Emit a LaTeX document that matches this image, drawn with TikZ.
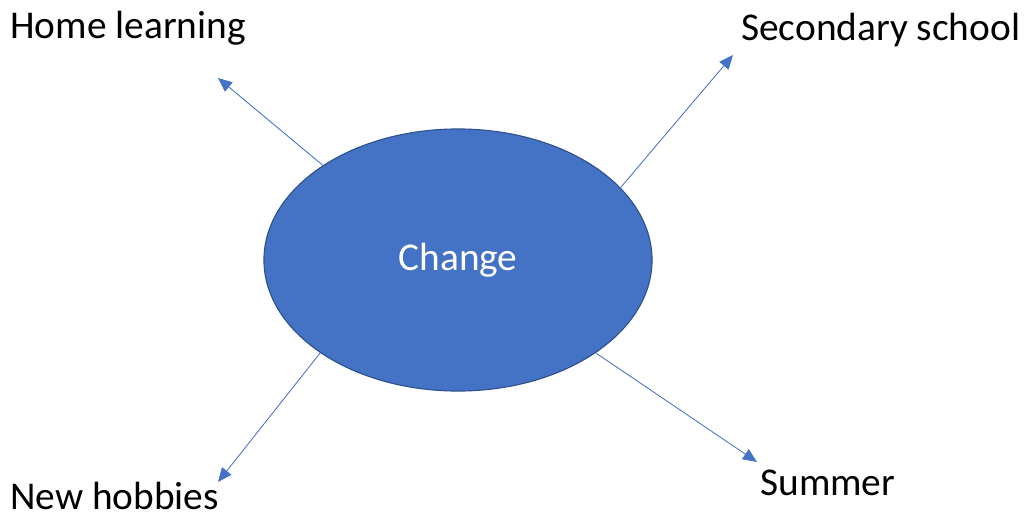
\documentclass[tikz,border=0pt]{standalone}
\usepackage{fontspec}
\setmainfont{Carlito}
\usepackage{xcolor}
\usetikzlibrary{arrows.meta,shapes.geometric,positioning}
\definecolor{officeblue}{HTML}{4472C4}
\definecolor{officeedge}{HTML}{2F528F}

\begin{document}
\begin{tikzpicture}[x=0.025cm, y=-0.025cm, every node/.style={font=\fontsize{28}{32}\selectfont}]
\useasboundingbox (0,0) rectangle (1027,521);

\node[ellipse, draw=officeedge, line width=0.8pt, fill=officeblue, text=white,
      minimum width=9.7cm, minimum height=6.55cm](CH) at (458,260){Change};

\coordinate(HLt) at (218,78);
\coordinate(SSt) at (733,55);
\coordinate(NHt) at (218,482);
\coordinate(SUt) at (757,462);

\node[anchor=west, inner sep=0pt](HL) at (10,28){Home learning};
\node[anchor=west, inner sep=0pt](SS) at (741,30){Secondary school};
\node[anchor=west, inner sep=0pt](NH) at (10,496){New hobbies};
\node[anchor=west, inner sep=0pt](SU) at (760,483){Summer};

\tikzset{arr/.style={draw=officeblue, line width=0.6pt, -{Triangle[length=10pt, width=8.5pt]}}}
\draw[arr] (CH.145.7) -- (HLt);
\draw[arr] (CH.24.5) -- (SSt);
\draw[arr] (CH.214.2) -- (NHt);
\draw[arr] (CH.-34.2) -- (SUt);
\end{tikzpicture}
\end{document}
